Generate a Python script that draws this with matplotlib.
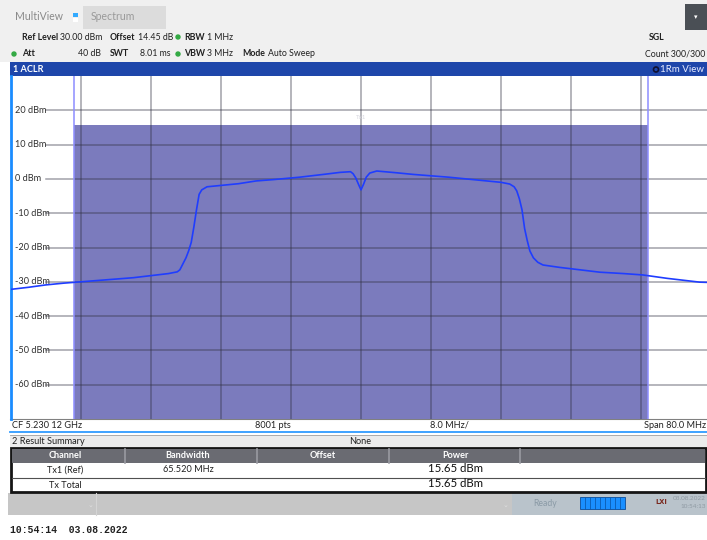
import matplotlib
matplotlib.use("Agg")
import matplotlib.pyplot as plt
from matplotlib.patches import Rectangle, Circle

# ---------------- data ----------------
freq_mhz = [-40.0, -38.0, -36.0, -34.0, -32.0, -30.0, -28.0, -26.0, -24.0, -22.0,
            -21.0, -20.7, -20.4, -20.0, -19.7, -19.4, -19.1, -18.8, -18.5, -18.2,
            -17.6, -16.0, -14.0, -12.0, -10.0, -7.0, -4.0, -2.4, -1.2, -0.9,
            -0.6, -0.3, 0.0, 0.3, 0.6, 1.0, 1.8, 4.0, 6.0, 8.0,
            10.0, 12.0, 14.0, 16.0, 17.0, 17.5, 17.8, 18.1, 18.4, 18.7,
            19.0, 19.3, 19.7, 20.2, 20.8, 22.7, 25.0, 27.3, 30.0, 32.2,
            35.0, 38.7, 40.0]
level_dbm = [-32.2, -31.6, -30.9, -30.4, -30.0, -29.6, -29.2, -28.8, -28.2, -27.6,
             -27.1, -26.5, -25.0, -23.0, -21.0, -18.5, -14.0, -9.0, -4.5, -3.2,
             -2.3, -1.9, -1.4, -0.6, -0.2, 0.5, 1.4, 1.9, 2.1, 1.5,
             0.3, -1.5, -3.2, -1.5, 0.5, 1.7, 2.3, 1.8, 1.3, 0.9,
             0.5, 0.0, -0.5, -1.0, -1.5, -2.3, -3.5, -5.8, -9.0, -14.5,
             -18.0, -21.0, -23.0, -24.3, -25.1, -25.8, -26.5, -27.2, -27.6, -28.0,
             -29.0, -30.1, -30.2]
channel_bw_mhz = 65.52
channel_power_dbm = 15.65
ref_level = 30
y_bottom = -70
y_ticks = [20, 10, 0, -10, -20, -30, -40, -50, -60]
y_tick_labels = ["20 dBm", "10 dBm", "0 dBm", "-10 dBm", "-20 dBm", "-30 dBm",
                 "-40 dBm", "-50 dBm", "-60 dBm"]
x_grid = [-32, -24, -16, -8, 0, 8, 16, 24, 32]
span_mhz = 80.0

# ---------------- fonts ----------------
UI = "Lato"
MONO = "Liberation Mono"
plt.rcParams["font.family"] = [UI, "DejaVu Sans"]
FS = 6.6
HS = 6.3

W, H = 707, 540
fig = plt.figure(figsize=(W / 100, H / 100), dpi=100)
fig.patch.set_facecolor("white")

bg = fig.add_axes([0, 0, 1, 1], zorder=0)
bg.set_xlim(0, W)
bg.set_ylim(H, 0)
bg.axis("off")


def rect(x0, y0, x1, y1, fc, ec="none", lw=0, z=1):
    bg.add_patch(Rectangle((x0, y0), x1 - x0, y1 - y0, facecolor=fc, edgecolor=ec,
                           linewidth=lw, zorder=z))


def txt(x, y, s, size=FS, color="#202020", weight="normal", ha="left", family=None, z=5):
    bg.text(x, y, s, fontsize=size, color=color, fontweight=weight, ha=ha, va="center",
            family=family or [UI, "DejaVu Sans"], zorder=z)


# top header
rect(0, 0, W, 62, "#f0f0f0")
txt(15, 17, "MultiView", 7.6, "#8a8a8a")
rect(73, 13, 78, 17, "#33aaff")
rect(73, 18, 78, 22, "#ffffff")
rect(83, 6, 166, 29, "#dcdcdc")
txt(91, 17, "Spectrum", 7.6, "#9a9a9a")
rect(685, 4, 707, 30, "#4a4f55")
txt(696, 17, "▾", 5, "#ffffff", ha="center", family="DejaVu Sans")

green = "#33aa44"
txt(22, 37, "Ref Level", HS, weight="bold")
txt(60, 37, "30.00 dBm", HS)
txt(110, 37, "Offset", HS, weight="bold")
txt(138, 37, "14.45 dB", HS)
bg.add_patch(Circle((178, 37), 2.0, color=green, zorder=5))
txt(184, 37, "RBW", HS, weight="bold")
txt(207, 37, "1 MHz", HS)

bg.add_patch(Circle((14, 54), 2.0, color=green, zorder=5))
txt(22, 54, "Att", HS, weight="bold")
txt(78, 54, "40 dB", HS)
txt(110, 54, "SWT", HS, weight="bold")
txt(140, 54, "8.01 ms", HS)
bg.add_patch(Circle((178, 54), 2.0, color=green, zorder=5))
txt(184, 54, "VBW", HS, weight="bold")
txt(207, 54, "3 MHz", HS)
txt(242, 54, "Mode", HS, weight="bold")
txt(268, 54, "Auto Sweep", HS)
txt(649, 37, "SGL", HS, weight="bold")
txt(705, 54, "Count 300/300", HS, ha="right")

# blue window title bar
rect(10, 62, W, 76, "#1e46aa")
txt(13, 69.5, "1 ACLR", FS, "#ffffff", weight="bold")
bg.add_patch(Circle((656, 69.5), 2.5, facecolor="none", edgecolor="#101030", lw=1.2, zorder=6))
txt(704, 69.5, "1Rm View", FS + 0.4, "#e8ecff", ha="right")

# bottom info bar of the diagram
bg.plot([10, W], [419, 419], color="#808080", lw=0.8, zorder=3)
txt(12, 425, "CF 5.230 12 GHz")
txt(273, 425, "8001 pts", ha="center")
txt(449, 425, "8.0 MHz/", ha="center")
txt(706, 425, "Span 80.0 MHz", ha="right")
bg.plot([10, W], [432, 432], color="#2f9bff", lw=1.3, zorder=3)

# result summary
rect(10, 435, W, 448, "#ececec")
bg.plot([10, W], [435, 435], color="#a0a0a0", lw=0.6, zorder=3)
txt(12, 441.5, "2 Result Summary")
txt(360, 441.5, "None", ha="center")
rect(11, 448, 706, 492, "#ffffff", ec="#151515", lw=2.0, z=2)
rect(12, 449, 705, 463, "#6a6b72", z=3)
cols = [125, 257, 389, 520]
for cx in cols:
    bg.plot([cx, cx], [449, 463], color="#9a9aa2", lw=1.2, zorder=4)
txt(65, 456, "Channel", FS, "#ffffff", weight="bold", ha="center")
txt(188, 456, "Bandwidth", FS, "#ffffff", weight="bold", ha="center")
txt(323, 456, "Offset", FS, "#ffffff", weight="bold", ha="center")
txt(455, 456, "Power", FS, "#ffffff", weight="bold", ha="center")
bg.plot([12, 705], [478, 478], color="#505050", lw=0.8, zorder=4)
txt(65, 470.5, "Tx1 (Ref)", ha="center")
txt(188, 470, "65.520 MHz", ha="center")
txt(455, 468.5, f"{channel_power_dbm:.2f} dBm", 8.2, "#101010", ha="center")
txt(65, 485, "Tx Total", ha="center")
txt(455, 483.5, f"{channel_power_dbm:.2f} dBm", 8.2, "#101010", ha="center")

# status bar
rect(8, 493, 512, 515, "#c6c6c6")
bg.plot([95.5, 95.5], [493, 515], color="#d4d4d4", lw=0.8, zorder=2)
rect(512, 493, W, 515, "#b9c3cb")
txt(88, 505, "⌄", 5, "#e0e0e0", family="DejaVu Sans")
txt(503, 505, "⌄", 5, "#e0e0e0", family="DejaVu Sans")
txt(545, 503, "Ready", 6.2, "#8a9aa6", ha="center")
rect(580, 497, 625, 509, "#1a8fff", ec="#0b4d99", lw=0.6, z=3)
for k in range(1, 9):
    bx = 580 + k * 45 / 9
    bg.plot([bx, bx], [497, 509], color="#0b5bb0", lw=0.6, zorder=4)
txt(661, 502, "LXI", 4.8, "#7a2a20", weight="bold", ha="center", family="DejaVu Sans")
txt(706, 498, "03.08.2022", 4.6, "#8f9aa3", ha="right")
txt(706, 507, "10:54:13", 4.6, "#8f9aa3", ha="right")

# screenshot timestamp
txt(10, 530, "10:54:14  03.08.2022", 7, "#202020", weight="bold", family=MONO)

# ---------------- diagram ----------------
px_per_mhz = 70 / 8.0
left_px, top_px, bot_px = 11, 76, 419
width_px = span_mhz * px_per_mhz
ax = fig.add_axes([left_px / W, 1 - bot_px / H, width_px / W, (bot_px - top_px) / H], zorder=1)
ax.set_xlim(-span_mhz / 2, span_mhz / 2)
ax.set_ylim(y_bottom, ref_level)
ax.axis("off")

grid_start = -span_mhz / 2 + (46 - left_px) / px_per_mhz
ax.bar(0, channel_power_dbm - y_bottom, bottom=y_bottom, width=channel_bw_mhz,
       color="#7b7bbd", edgecolor="none", zorder=2)
for gx in x_grid:
    ax.plot([gx, gx], [y_bottom, ref_level], color="#303040", alpha=0.42, lw=1.2, zorder=3)
for gy, lab in zip(y_ticks, y_tick_labels):
    ax.plot([grid_start, span_mhz / 2], [gy, gy], color="#303040", alpha=0.45, lw=1.1, zorder=3)
    ax.text(-span_mhz / 2 + 4 / px_per_mhz, gy, lab, fontsize=FS, color="#303030",
            va="center", ha="left", zorder=6)
for ex in (-channel_bw_mhz / 2, channel_bw_mhz / 2):
    ax.plot([ex, ex], [y_bottom, ref_level], color="#8f8fff", lw=1.4, alpha=0.8, zorder=3)
ax.text(0, 17.8, "Tx1", fontsize=4.5, color="#d8d8e0", ha="center", va="center", zorder=4)
ax.plot([-span_mhz / 2, -span_mhz / 2], [y_bottom, ref_level], color="#1a8cff", lw=2, zorder=5,
        clip_on=False)
ax.plot(freq_mhz, level_dbm, color="#1f3dff", lw=1.2, zorder=5)

fig.savefig("out.png", dpi=100)
